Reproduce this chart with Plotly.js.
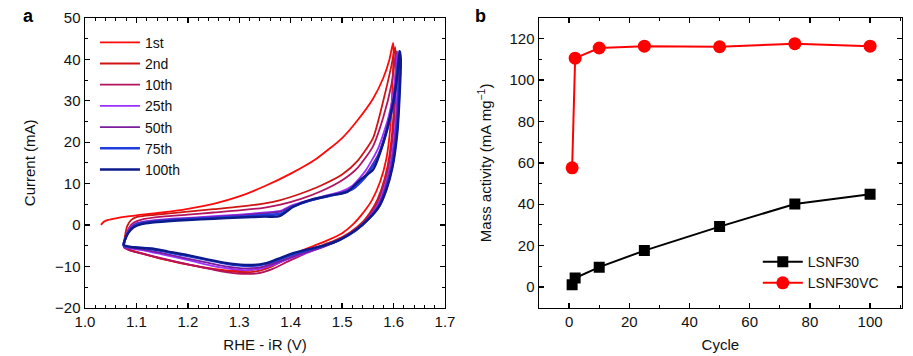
<!DOCTYPE html>
<html>
<head>
<meta charset="utf-8">
<script src="https://cdn.plot.ly/plotly-3.0.1.min.js"></script>
<style>html,body{margin:0;padding:0;background:#fff}#chart{width:913px;height:356px}</style>
</head>
<body>
<div id="chart"></div>
<script>
// ---------- Panel a: cyclic voltammograms ----------
var cycleNames = ['1st', '2nd', '10th', '25th', '50th', '75th', '100th'];

var cv1V = [1.031,1.036,1.045,1.06,1.08,1.10,1.15,1.20,1.25,1.30,1.35,1.40,1.45,1.50,1.53,1.56,1.58,1.592,1.599,
            1.600,1.598,1.594,1.586,1.574,1.558,1.54,1.52,1.50,1.47,1.44,1.41,1.38,1.35,1.32,1.29,1.25,1.20,1.15,1.11,1.09,1.078];
var cv1I = [0,0.7,1.2,1.6,2.0,2.3,3.0,3.9,5.1,6.9,9.4,12.4,16.0,21.0,25.3,30.5,35.5,40,44,
            42,34,24,16,10.5,6,2.8,0,-2.0,-3.8,-5.3,-6.8,-8.4,-10.0,-11.0,-11.1,-10.6,-9.6,-8.2,-6.9,-6.1,-5.4];

var cv2V = [1.075,1.078,1.082,1.09,1.10,1.15,1.20,1.25,1.30,1.35,1.38,1.42,1.46,1.50,1.53,1.56,1.58,1.595,1.603,
            1.604,1.602,1.597,1.588,1.576,1.562,1.542,1.515,1.485,1.45,1.42,1.39,1.36,1.33,1.30,1.26,1.22,1.18,1.14,1.11,1.09,1.075];
var cv2I = [-5.2,-2.5,-0.3,1.2,1.9,2.6,3.2,3.8,4.4,5.2,6.0,7.6,9.6,12.2,15.5,21,30,38,43,
            40,32,22,14,8.5,4.5,1.0,-1.8,-3.8,-5.4,-6.8,-8.4,-10.2,-11.3,-11.4,-10.9,-10.0,-9.0,-7.9,-6.9,-6.2,-5.3];

var cv10V = [1.076,1.08,1.086,1.095,1.11,1.15,1.20,1.25,1.30,1.35,1.38,1.42,1.46,1.50,1.53,1.56,1.58,1.596,1.605,
             1.606,1.604,1.599,1.59,1.578,1.565,1.545,1.518,1.488,1.455,1.425,1.395,1.365,1.335,1.305,1.265,1.225,1.18,1.14,1.11,1.09,1.076];
var cv10I = [-5.5,-2.6,-0.6,0.6,1.3,2.0,2.5,3.0,3.5,4.2,4.9,6.3,8.2,10.8,13.8,19,26,34,42,
             40,32,22,14,8.5,4.5,1.0,-1.8,-3.9,-5.6,-7.1,-8.8,-10.6,-11.7,-11.8,-11.2,-10.2,-9.0,-7.8,-6.9,-6.3,-5.5];

var cv25V = [1.076,1.081,1.088,1.10,1.12,1.16,1.20,1.25,1.30,1.35,1.38,1.40,1.43,1.46,1.50,1.52,1.545,1.57,1.59,1.602,1.608,
             1.609,1.607,1.602,1.593,1.581,1.568,1.548,1.522,1.492,1.46,1.43,1.40,1.37,1.34,1.31,1.27,1.23,1.19,1.15,1.12,1.095,1.076];
var cv25I = [-5.3,-2.4,-0.6,0.4,0.9,1.4,1.7,2.1,2.5,3.0,3.4,4.6,5.8,6.8,8.2,9.5,13,18.5,26,34,42,
             40,32,22,14,8.5,4.5,1.2,-1.6,-3.8,-5.5,-6.8,-8.0,-9.5,-10.6,-10.9,-10.4,-9.4,-8.2,-7.1,-6.3,-5.8,-5.3];

var cv50V = [1.076,1.082,1.09,1.10,1.12,1.16,1.20,1.25,1.30,1.35,1.38,1.40,1.43,1.46,1.50,1.52,1.545,1.57,1.59,1.603,1.61,
             1.611,1.609,1.604,1.595,1.583,1.570,1.550,1.525,1.495,1.463,1.433,1.403,1.373,1.343,1.313,1.273,1.233,1.19,1.15,1.12,1.095,1.076];
var cv50I = [-5.2,-2.3,-0.6,0.3,0.8,1.3,1.6,1.9,2.3,2.8,3.2,4.4,5.6,6.6,7.9,9.0,12,17,24.5,33,41,
             40,32,22,14,8.5,4.5,1.3,-1.4,-3.6,-5.3,-6.5,-7.7,-9.1,-10.2,-10.5,-10.0,-9.0,-7.9,-6.8,-6.1,-5.6,-5.2];

var cv75V = [1.075,1.082,1.091,1.10,1.12,1.16,1.20,1.25,1.30,1.35,1.38,1.40,1.43,1.46,1.50,1.52,1.545,1.57,1.59,1.604,1.611,
             1.613,1.611,1.606,1.597,1.585,1.572,1.552,1.527,1.497,1.465,1.435,1.405,1.375,1.345,1.315,1.275,1.235,1.19,1.15,1.12,1.095,1.075];
var cv75I = [-5.0,-2.2,-0.7,0.1,0.6,1.1,1.4,1.7,2.0,2.4,2.7,4.2,5.6,6.6,7.7,8.6,11.5,16.5,24,33,42,
             40,32,22,14,8.5,4.5,1.5,-1.3,-3.5,-5.0,-6.0,-7.1,-8.5,-9.6,-9.9,-9.4,-8.4,-7.3,-6.3,-5.7,-5.4,-5.0];

var cv100V = [1.075,1.084,1.094,1.11,1.13,1.16,1.20,1.25,1.30,1.35,1.378,1.405,1.437,1.48,1.51,1.535,1.56,1.58,1.60,1.609,1.612,
              1.614,1.612,1.607,1.598,1.586,1.572,1.552,1.527,1.497,1.467,1.437,1.405,1.375,1.35,1.32,1.28,1.24,1.2,1.16,1.13,1.095,1.075];
var cv100I = [-4.8,-2.0,-0.6,0.2,0.6,0.9,1.2,1.5,1.8,2.0,2.1,4.4,6.0,7.2,8.0,10.9,13.3,19.8,30,38,42,
              40,32,22,14,8.5,4.5,1.5,-1.2,-3.5,-4.9,-5.8,-6.8,-8.2,-9.3,-9.7,-9.3,-8.4,-7.3,-6.4,-5.7,-5.4,-4.8];

// ---------- Panel b: mass activity ----------
var cycles = [1, 2, 10, 25, 50, 75, 100];
var lsnf30 = [1.1, 4.3, 9.6, 17.6, 29.2, 40.1, 44.8];
var lsnf30vc = [57.6, 110.6, 115.5, 116.4, 116.1, 117.6, 116.4];
var seriesNames = ['LSNF30', 'LSNF30VC'];

var cvColors = ['#ff0a0a', '#d01515', '#b3145f', '#9b30ff', '#7d1c9c', '#1f3ee0', '#0d1a8a'];
var cvX = [cv1V, cv2V, cv10V, cv25V, cv50V, cv75V, cv100V];
var cvY = [cv1I, cv2I, cv10I, cv25I, cv50I, cv75I, cv100I];

var FONT = 'Liberation Sans, Arial, Helvetica, sans-serif';
var FS = 15;
var LFS = 14;
var traces = [];
for (var k = 0; k < cycleNames.length; k++) {
  traces.push({
    x: cvX[k], y: cvY[k], type: 'scatter', mode: 'lines', name: cycleNames[k],
    line: {color: cvColors[k], width: k >= 5 ? 2.4 : 1.8, shape: 'spline', smoothing: 0.6},
    xaxis: 'x', yaxis: 'y', legend: 'legend'
  });
}
traces.push({
  x: cycles, y: lsnf30, type: 'scatter', mode: 'lines+markers', name: seriesNames[0],
  line: {color: '#000000', width: 2}, marker: {symbol: 'square', size: 11, color: '#000000'},
  xaxis: 'x2', yaxis: 'y2', legend: 'legend2'
});
traces.push({
  x: cycles, y: lsnf30vc, type: 'scatter', mode: 'lines+markers', name: seriesNames[1],
  line: {color: '#ff0000', width: 2}, marker: {symbol: 'circle', size: 13, color: '#ff0000'},
  xaxis: 'x2', yaxis: 'y2', legend: 'legend2'
});

var axisCommon = {
  showline: true, linecolor: '#000', linewidth: 1.5, mirror: 'ticks',
  ticks: 'inside', ticklen: 5, tickwidth: 1.3, tickcolor: '#000',
  showgrid: false, zeroline: false,
  tickfont: {family: FONT, size: FS, color: '#111'}
};
function ax(extra) { var o = {}; for (var key in axisCommon) o[key] = axisCommon[key]; for (var key2 in extra) o[key2] = extra[key2]; return o; }
var minorCfg = function (d) { return {dtick: d, ticks: 'inside', ticklen: 3, tickcolor: '#000', tickwidth: 1}; };
var titleFont = {family: FONT, size: FS, color: '#111'};

var layout = {
  width: 913, height: 356,
  margin: {l: 0, r: 0, t: 0, b: 0},
  paper_bgcolor: '#fff', plot_bgcolor: '#fff',
  font: {family: FONT, size: FS, color: '#111'},
  xaxis: ax({domain: [0.0931, 0.4874], range: [1.0, 1.7], dtick: 0.1, tickformat: '.1f', minor: minorCfg(0.02),
    title: {text: 'RHE - iR (V)', font: titleFont, standoff: 10}, anchor: 'y'}),
  yaxis: ax({domain: [0.1357, 0.9494], range: [-20, 50], dtick: 10, minor: minorCfg(5),
    title: {text: 'Current (mA)', font: titleFont, standoff: 16}, anchor: 'x'}),
  xaxis2: ax({domain: [0.5904, 0.9876], range: [-10, 110.5], dtick: 20, minor: minorCfg(10),
    title: {text: 'Cycle', font: titleFont, standoff: 10}, anchor: 'y2'}),
  yaxis2: ax({domain: [0.1357, 0.9494], range: [-10, 130], dtick: 20, minor: minorCfg(10),
    title: {text: 'Mass activity (mA mg<sup>−1</sup>)', font: titleFont, standoff: 14}, anchor: 'x2'}),
  legend: {x: 0.104, y: 0.925, xanchor: 'left', yanchor: 'top', bgcolor: 'rgba(0,0,0,0)',
    font: {family: FONT, size: LFS, color: '#111'}, tracegroupgap: 0, itemwidth: 40},
  legend2: {x: 0.83, y: 0.16, xanchor: 'left', yanchor: 'bottom', bgcolor: 'rgba(0,0,0,0)',
    font: {family: FONT, size: LFS, color: '#111'}, itemwidth: 40},
  annotations: [
    {text: '<b>a</b>', x: 0.023, y: 0.99, xref: 'paper', yref: 'paper', xanchor: 'left', yanchor: 'top', showarrow: false, font: {family: FONT, size: 18, color: '#000'}},
    {text: '<b>b</b>', x: 0.518, y: 0.99, xref: 'paper', yref: 'paper', xanchor: 'left', yanchor: 'top', showarrow: false, font: {family: FONT, size: 18, color: '#000'}}
  ]
};

Plotly.newPlot('chart', traces, layout, {staticPlot: true, displayModeBar: false});
</script>
</body>
</html>
